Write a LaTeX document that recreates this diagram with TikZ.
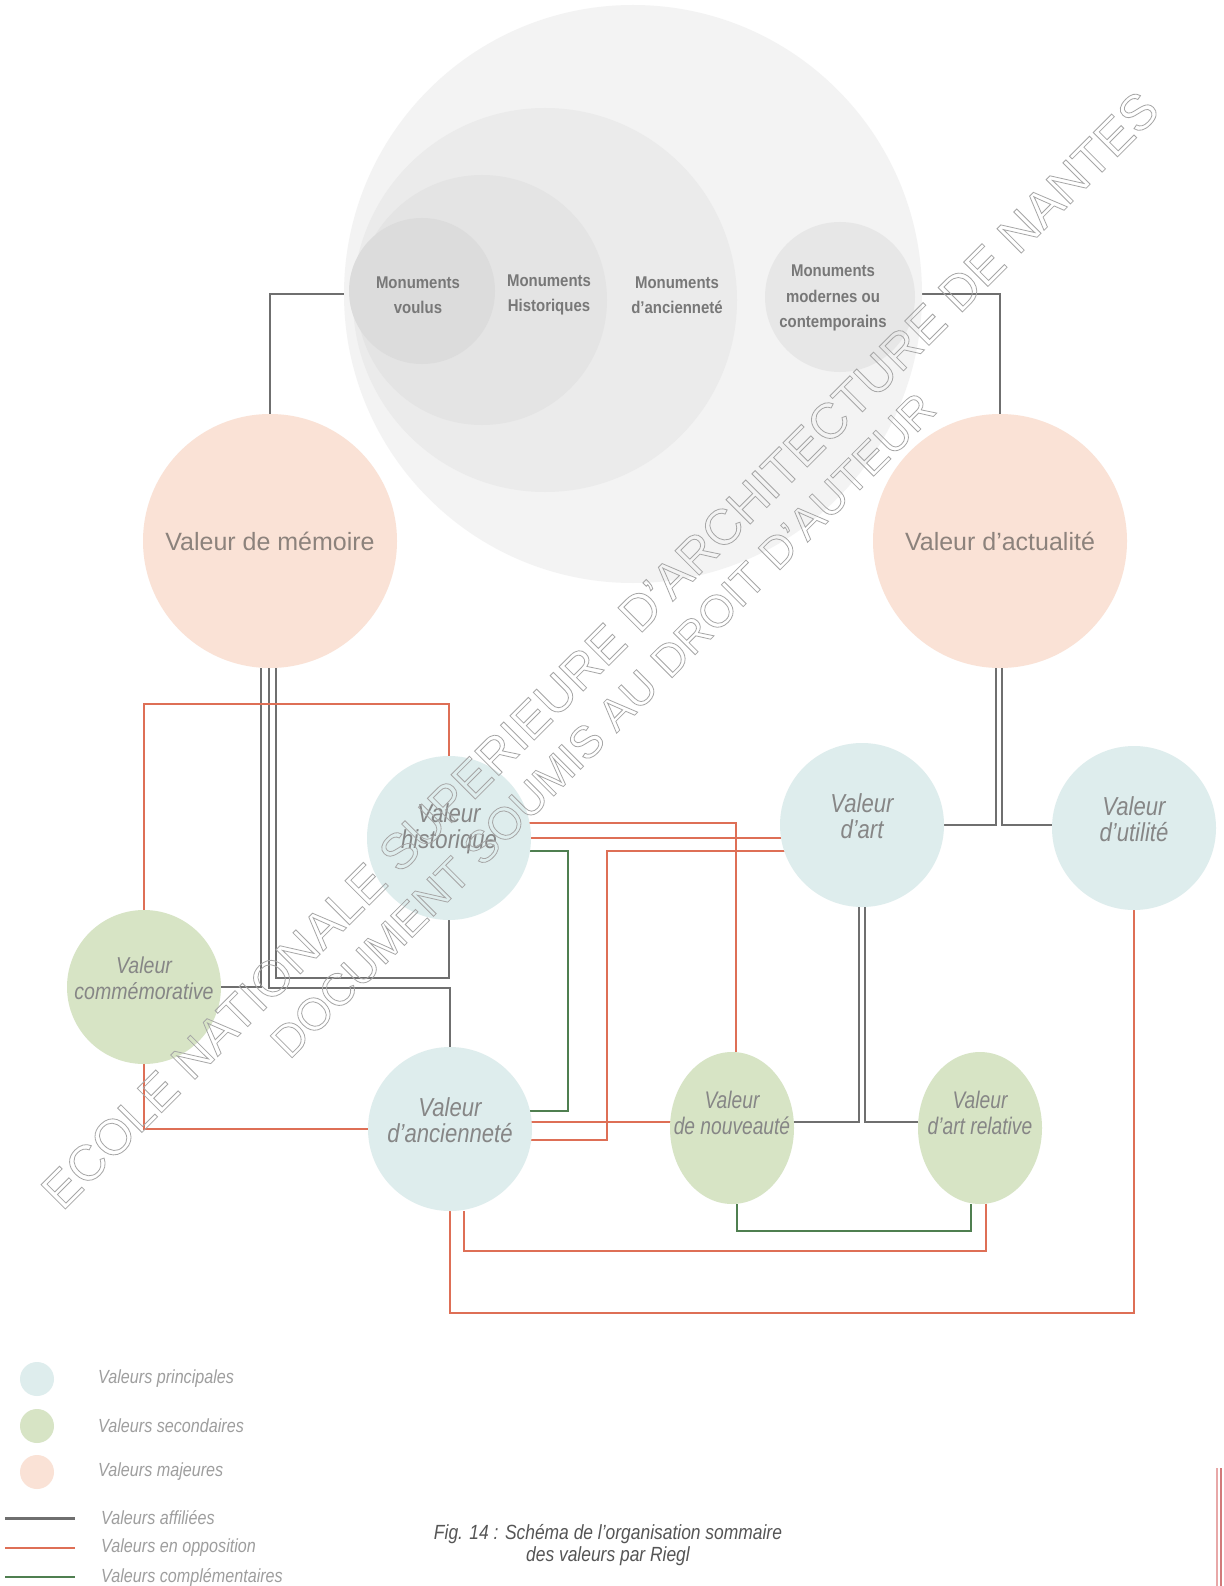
\documentclass[tikz,border=0pt]{standalone}
\usepackage{fontspec}
\setmainfont{Liberation Sans}
\newfontfamily\nit[FakeStretch=0.85]{Liberation Sans}
\newfontfamily\nitb[FakeStretch=0.8]{Liberation Sans}
\newfontfamily\nbf[FakeStretch=0.88]{Liberation Sans}
\usetikzlibrary{calc,shapes.geometric}
\definecolor{cout}{HTML}{F3F3F3}
\definecolor{cancm}{HTML}{EBEBEB}
\definecolor{chism}{HTML}{E4E4E4}
\definecolor{cvoum}{HTML}{DCDCDC}
\definecolor{cmodm}{HTML}{E7E7E7}
\definecolor{cmon}{HTML}{787878}
\definecolor{cpeach}{HTML}{FAE2D6}
\definecolor{cblue}{HTML}{DEEDED}
\definecolor{cgreen}{HTML}{D7E4C5}
\definecolor{cptxt}{HTML}{8C827C}
\definecolor{citxt}{HTML}{868686}
\definecolor{cgray}{HTML}{6F6F6F}
\definecolor{cred}{HTML}{DE6F56}
\definecolor{cgrn}{HTML}{4F7F50}
\definecolor{clegt}{HTML}{9E9E9E}
\definecolor{ccap}{HTML}{555555}
\definecolor{cwm}{HTML}{A6A6A6}
\definecolor{cpink}{HTML}{E8A8A8}
\definecolor{cbar}{HTML}{D27A7A}
\pgfdeclarelayer{bgw}
\pgfdeclarelayer{lines}
\pgfdeclarelayer{fg}
\pgfsetlayers{bgw,lines,main,fg}
\begin{document}
\begin{tikzpicture}[x=1pt,y=-1pt,
  circ/.style={circle,inner sep=0pt,align=center},
  princ/.style={circ,fill=cblue,minimum size=164pt},
  ptxt/.style={align=center,inner sep=0pt,text=citxt,yshift=9pt,font={\nit\itshape\fontsize{26}{26.3}\selectfont}},
  ctxt/.style={align=center,inner sep=0pt,text=citxt,yshift=9pt,font={\nit\itshape\fontsize{23}{26.3}\selectfont}},
  stxt/.style={align=center,inner sep=0pt,text=citxt,yshift=15pt,font={\nitb\itshape\fontsize{24}{26}\selectfont}},
  secs/.style={ellipse,inner sep=0pt,fill=cgreen,minimum width=124pt,minimum height=152pt},
  maj/.style={circ,fill=cpeach,minimum size=254pt,text=cptxt,font={\fontsize{25}{30}\selectfont}},
  monu/.style={align=center,text=cmon,inner sep=0pt,font={\nbf\bfseries\fontsize{17}{25.5}\selectfont}},
  aff/.style={draw=cgray,line width=2pt},
  opp/.style={draw=cred,line width=1.6pt},
  comp/.style={draw=cgrn,line width=1.6pt},
  legt/.style={anchor=west,text=clegt,inner sep=0pt,font={\nit\itshape\fontsize{19}{22}\selectfont}},
  wmark/.style={rotate=45,text=cwm,inner sep=0pt}
]
\begin{pgfonlayer}{bgw}
\fill[white] (0,0) rectangle (1223,1586);
\end{pgfonlayer}
\useasboundingbox (0,0) rectangle (1223,1586);

% --- monuments cluster
\node[circ,fill=cout,minimum size=578pt] (outer) at (633,294) {};
\node[circ,fill=cancm,minimum size=384pt] (ancm) at (545,300) {};
\node[circ,fill=chism,minimum size=250pt] (hism) at (482,300) {};
\node[circ,fill=cvoum,minimum size=146pt] (voum) at (422,291) {};
\node[circ,fill=cmodm,minimum size=150pt] (modm) at (840,297) {};
\node[monu] (tvou) at (418,295) {Monuments\\voulus};
\node[monu] (this) at (549,295) {Monuments\\Historiques};
\node[monu] (tanc) at (677,295) {Monuments\\d’ancienneté};
\node[monu] (tmod) at (833,298) {Monuments\\modernes ou\\contemporains};

% --- major values
\node[maj] (mem) at (270,541) {Valeur de mémoire};
\node[maj] (act) at (1000,541) {Valeur d’actualité};

% --- principal and secondary values
\node[princ,label={[ptxt]center:{Valeur\\historique}}] (his) at (449,838) {};
\node[princ,label={[ptxt]center:{Valeur\\d’ancienneté}}] (anc) at (450,1129) {};
\node[princ,label={[ptxt]center:{Valeur\\d’art}}] (art) at (862,825) {};
\node[princ,label={[ptxt]center:{Valeur\\d’utilité}}] (uti) at (1134,828) {};
\node[circ,fill=cgreen,minimum size=154pt,label={[ctxt]center:{Valeur\\commémorative}}] (com) at (144,987) {};
\node[secs,label={[stxt]center:{Valeur\\de nouveauté}}] (nou) at (732,1128) {};
\node[secs,label={[stxt]center:{Valeur\\d’art relative}}] (rel) at (980,1128) {};

% --- connectors
\coordinate (hy) at (0,1122);
\coordinate (xa) at (607,1140);
\coordinate (xg) at (568,1111);
\coordinate (an1) at ([yshift=7pt]anc.center);
\begin{pgfonlayer}{lines}
% affiliated
\draw[aff] (mem.north) |- (outer.west);
\draw[aff] (act.north) |- (outer.east);
\draw[aff] ([xshift=-9pt]mem.south) |- (com.east);
\draw[aff] ([xshift=-1pt]mem.south) |- ([yshift=59pt]anc.north) -- (anc.north);
\draw[aff] ([xshift=6pt]mem.south) |- ([yshift=-58pt]his.south) -- (his.south);
\draw[aff] ([xshift=-4pt]act.south) |- (art.east);
\draw[aff] ([xshift=2pt]act.south) |- (art.east -| uti.west);
\draw[aff] ([xshift=-3pt]art.south) |- (nou.east |- hy);
\draw[aff] ([xshift=3pt]art.south) |- (rel.west |- hy);
% opposition
\draw[opp] (com.north) |- ([yshift=52pt]his.north) -- (his.north);
\draw[opp] (com.south) |- (anc.west);
\draw[opp] ([yshift=15pt]his.center) -| ([xshift=4pt]nou.north);
\draw[opp] (his.center) -- (his.center -| art.center);
\draw[opp] ([yshift=-26pt]art.center) -| (xa) -- (xa -| anc.center);
\draw[opp] (an1) -- (an1 -| nou.center);
\draw[opp] ([xshift=14pt]anc.south) |- ([xshift=6pt,yshift=-47pt]rel.south) -- ([xshift=6pt]rel.south);
\draw[opp] (anc.south) -- ([yshift=-102pt]anc.south) -| (uti.south);
% complementary
\draw[comp] ([yshift=-13pt]his.center) -| (xg) -- (xg -| anc.center);
\draw[comp] ([xshift=5pt]nou.south) -- ([xshift=5pt,yshift=-27pt]nou.south) -| ([xshift=-9pt]rel.south);
\end{pgfonlayer}

% --- legend
\node[circ,fill=cblue,minimum size=34pt] (lg1) at (37,1379) {};
\node[circ,fill=cgreen,minimum size=34pt] (lg2) at (37,1426) {};
\node[circ,fill=cpeach,minimum size=34pt] (lg3) at (37,1472) {};
\node[legt] (lt1) at (98,1379) {Valeurs principales};
\node[legt] (lt2) at (98,1426) {Valeurs secondaires};
\node[legt] (lt3) at (98,1472) {Valeurs majeures};
\coordinate (la1) at (5,1518); \coordinate (lb1) at (75,1518);
\coordinate (la2) at (5,1548); \coordinate (lb2) at (75,1548);
\coordinate (la3) at (5,1577); \coordinate (lb3) at (75,1577);
\draw[aff,line width=3pt] (la1) -- (lb1);
\draw[opp,line width=2.5pt] (la2) -- (lb2);
\draw[comp,line width=2.2pt] (la3) -- (lb3);
\node[legt] (lt4) at (101,1518) {Valeurs affiliées};
\node[legt] (lt5) at (101,1548) {Valeurs en opposition};
\node[legt] (lt6) at (101,1577) {Valeurs complémentaires};

% --- caption
\node[align=center,text=ccap,inner sep=0pt,font={\nit\itshape\fontsize{20.5}{22}\selectfont}] (cap) at (608,1545)
  {Fig. 14 : Schéma de l’organisation sommaire\\des valeurs par Riegl};

% --- page edge marks
\coordinate (ba) at (1217,1468); \coordinate (bb) at (1217,1586);
\coordinate (bc) at (1221,1468); \coordinate (bd) at (1221,1586);
\draw[cpink,line width=1.5pt] (ba) -- (bb);
\draw[cbar,line width=1.5pt] (bc) -- (bd);

% --- watermark
\begin{pgfonlayer}{fg}
\node[wmark,font={\fontsize{50}{50}\selectfont}] (wm1) at (600,650) {\special{pdf:literal direct 1 Tr 0.8 w}ECOLE NATIONALE SUPERIEURE D'ARCHITECTURE DE NANTES\special{pdf:literal direct 0 Tr}};
\node[wmark,font={\fontsize{45}{45}\selectfont}] (wm2) at (603,725) {\special{pdf:literal direct 1 Tr 0.8 w}DOCUMENT SOUMIS AU DROIT D'AUTEUR\special{pdf:literal direct 0 Tr}};
\end{pgfonlayer}
\end{tikzpicture}
\end{document}
